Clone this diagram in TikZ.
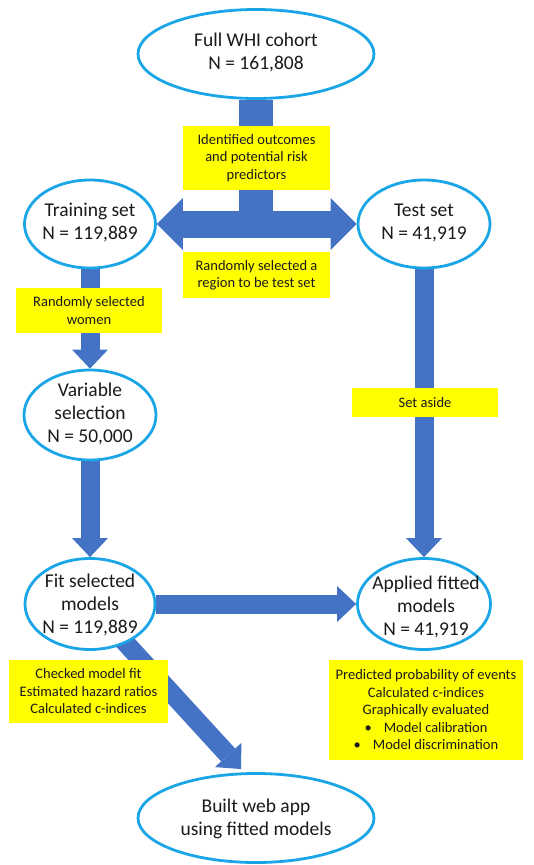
\documentclass[tikz,border=0pt]{standalone}
\usepackage{fontspec}
\setmainfont{Carlito}
\usetikzlibrary{shapes.geometric,arrows.meta,backgrounds}
\definecolor{ellblue}{HTML}{1AA6E6}
\definecolor{arrblue}{HTML}{4472C4}
\definecolor{boxyellow}{HTML}{FFFF00}
\definecolor{txtcol}{HTML}{1A1A1A}
\tikzset{
  ell/.style={ellipse, draw=ellblue, line width=2.8pt, fill=white, inner sep=0pt},
  etxt/.style={align=center, text=txtcol, font=\fontsize{19.5}{23}\selectfont, inner sep=0pt},
  ybox/.style={fill=boxyellow, inner sep=0pt, align=center, text=txtcol, font=\fontsize{14.5}{17.5}\selectfont},
  bigarrow/.style={draw=arrblue, line width=19pt, -{Triangle[width=36pt,length=19pt,line width=0pt]}},
  dblarrow/.style={draw=arrblue, line width=27pt, {Triangle[width=52pt,length=26pt,line width=0pt]}-{Triangle[width=52pt,length=26pt,line width=0pt]}},
  stemline/.style={draw=arrblue, line width=34pt}
}
\begin{document}
\begin{tikzpicture}[x=1pt,y=-1pt]
\useasboundingbox (0,0) rectangle (534,865);
% ellipses
\node[ell, minimum width=236pt, minimum height=89pt] (top) at (256,54) {};
\node[etxt] (topT) at (256,52) {Full WHI cohort\\N = 161,808};
\node[ell, minimum width=131pt, minimum height=88pt] (train) at (90,224) {};
\node[etxt] (trainT) at (90,223) {Training set\\N = 119,889};
\node[ell, minimum width=132pt, minimum height=88pt] (test) at (424,224) {};
\node[etxt] (testT) at (424,223) {Test set\\N = 41,919};
\node[ell, minimum width=132pt, minimum height=90pt] (var) at (90,415) {};
\node[etxt] (varT) at (90,414) {Variable\\selection\\N = 50,000};
\node[ell, minimum width=130pt, minimum height=91pt] (fit) at (90,604) {};
\node[etxt] (fitT) at (90,605) {Fit selected\\models\\N = 119,889};
\node[ell, minimum width=133pt, minimum height=91pt] (applied) at (424,604) {};
\node[etxt] (appliedT) at (426,607) {Applied fitted\\models\\N = 41,919};
\node[ell, minimum width=236pt, minimum height=89pt] (web) at (256,818) {};
\node[etxt] (webT) at (256,819) {Built web app\\using fitted models};
\coordinate (dtip) at (241,769);
% arrows
\begin{pgfonlayer}{background}
\draw[stemline] (top.south) -- (top.south |- train.east);
\draw[dblarrow] (train.east) -- (test.west);
\draw[bigarrow] (train.south) -- (var.north);
\draw[bigarrow] (var.south) -- (fit.north);
\draw[bigarrow] (test.south) -- (applied.north);
\draw[bigarrow] (fit.east) -- (applied.west);
\draw[bigarrow] (fit.center) -- (dtip);
\end{pgfonlayer}
% yellow boxes
\node[ybox, minimum width=147pt, minimum height=64pt] (b1) at (256.5,158) {Identified outcomes\\and potential risk\\predictors};
\node[ybox, minimum width=147pt, minimum height=46pt] (b2) at (256.5,275) {Randomly selected a\\region to be test set};
\node[ybox, minimum width=146pt, minimum height=45pt] (b3) at (89,310.5) {Randomly selected\\women};
\node[ybox, minimum width=146pt, minimum height=29pt] (b4) at (425,402.5) {Set aside};
\node[ybox, minimum width=159pt, minimum height=63pt] (b5) at (88.5,691.5) {Checked model fit\\Estimated hazard ratios\\Calculated c-indices};
\node[ybox, minimum width=194pt, minimum height=100pt] (b6) at (426,710) {Predicted probability of events\\Calculated c-indices\\Graphically evaluated\\\textbullet\hspace{12pt}Model calibration\\\textbullet\hspace{12pt}Model discrimination};
\end{tikzpicture}
\end{document}
